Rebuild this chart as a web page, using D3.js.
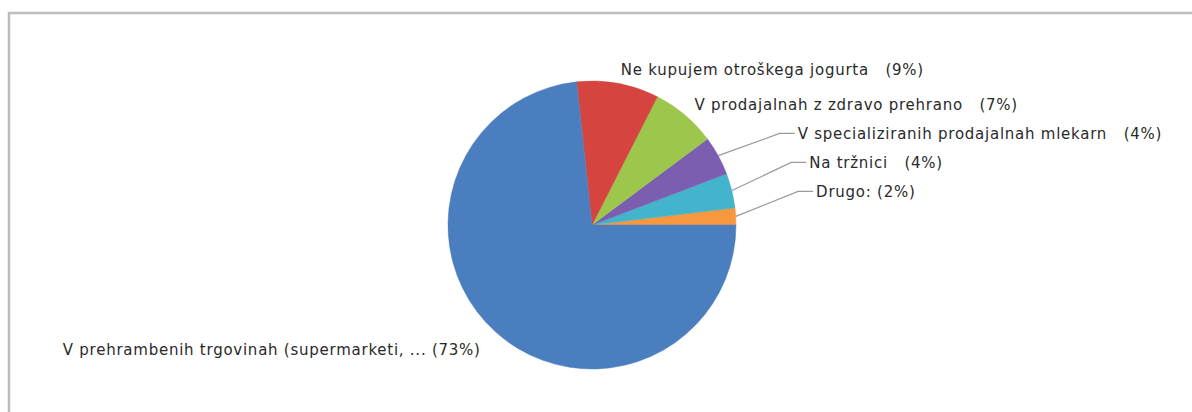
<!DOCTYPE html>
<html>
  <head>
    <meta charset="utf-8">
    <title>Nakup otroškega jogurta</title>
    <script src="https://d3js.org/d3.v7.min.js"></script>
    <style>
      body { margin: 0; background: #fff; }
      svg { display: block; }
      text { font-family: "DejaVu Sans", Verdana, sans-serif; font-size: 15px; letter-spacing: 0.75px; fill: #2a2a2a; white-space: pre; }
    </style>
  </head>
  <body>
    <div id="chart"></div>
    <script>
      // data (share of answers, counter-clockwise from 3 o'clock)
      var categories = [
        "Drugo:",
        "Na tržnici",
        "V specializiranih prodajalnah mlekarn",
        "V prodajalnah z zdravo prehrano",
        "Ne kupujem otroškega jogurta",
        "V prehrambenih trgovinah (supermarketi, ..."
      ];
      var values = [1.9, 3.9, 4.4, 7.3, 9.2, 73.3];
      var colors = ["#f7983f", "#43b4cc", "#7b5eaf", "#9cc64c", "#d6443f", "#4b7ebf"];
      var separators = [" ", "   ", "   ", "   ", "   ", " "];

      var width = 1192;
      var height = 412;
      var cx = 592, cy = 225, r = 144;

      var svg = d3.select("#chart")
            .append("svg")
            .attr("width", width)
            .attr("height", height);

      // frame: only top and left edges
      svg.append("path")
        .attr("d", "M9," + height + "V13H" + width)
        .style("fill", "none")
        .style("stroke", "#bdbdbd")
        .style("stroke-width", 2.5);

      var total = d3.sum(values);
      var data = values.map(function(v, i) {
        return { name: categories[i], value: v, color: colors[i], sep: separators[i] };
      });

      // start at 3 o'clock, go counter-clockwise
      var pie = d3.pie()
            .sort(null)
            .value(function(d) { return d.value; })
            .startAngle(Math.PI / 2)
            .endAngle(Math.PI / 2 - 2 * Math.PI);

      var arc = d3.arc().innerRadius(0).outerRadius(r);
      var arcs = pie(data);

      var g = svg.append("g").attr("transform", "translate(" + cx + "," + cy + ")");

      g.selectAll("path")
        .data(arcs)
        .enter()
        .append("path")
        .attr("d", arc)
        .style("fill", function(d) { return d.data.color; })
        .style("stroke", function(d) { return d.data.color; })
        .style("stroke-width", 0.5);

      function pct(d) { return "(" + Math.round(d.data.value / total * 100) + "%)"; }
      function mid(d) { return (d.startAngle + d.endAngle) / 2; }
      function onCircle(a, rad) { return [rad * Math.sin(a), -rad * Math.cos(a)]; }

      // labels: big slices sit next to the pie, small ones get leader lines
      var labelGap = 29, elbowR = r * 1.45;
      var small = arcs.filter(function(d) { return d.data.value / total < 0.05; })
                      .sort(function(a, b) { return mid(a) - mid(b); }); // top first
      var big = arcs.filter(function(d) { return d.data.value / total >= 0.05; });

      var lastRightY = -Infinity;
      big.forEach(function(d) {
        var a = mid(d);
        var p = onCircle(a, r + 15);
        var right = Math.sin(a) > 0;
        var x = right ? p[0] : p[0] - 5;
        var y = right ? p[1] + 1 : p[1] + 6;
        if (right) lastRightY = Math.max(lastRightY, y);
        g.append("text")
          .attr("x", x)
          .attr("y", y)
          .attr("dy", "0.35em")
          .attr("text-anchor", right ? "start" : "end")
          .text(d.data.name + d.data.sep + pct(d));
      });

      small.forEach(function(d) {
        var a = mid(d);
        var p0 = onCircle(a, r);
        var y = lastRightY + labelGap;
        lastRightY = y;
        var ex = Math.sqrt(elbowR * elbowR - y * y);
        g.append("polyline")
          .attr("points", [p0, [ex, y], [ex + 15, y]].map(function(p) { return p.join(","); }).join(" "))
          .style("fill", "none")
          .style("stroke", "#9a9a9a")
          .style("stroke-width", 1.2);
        g.append("text")
          .attr("x", ex + 18)
          .attr("y", y)
          .attr("dy", "0.35em")
          .text(d.data.name + d.data.sep + pct(d));
      });
    </script>
  </body>
</html>
